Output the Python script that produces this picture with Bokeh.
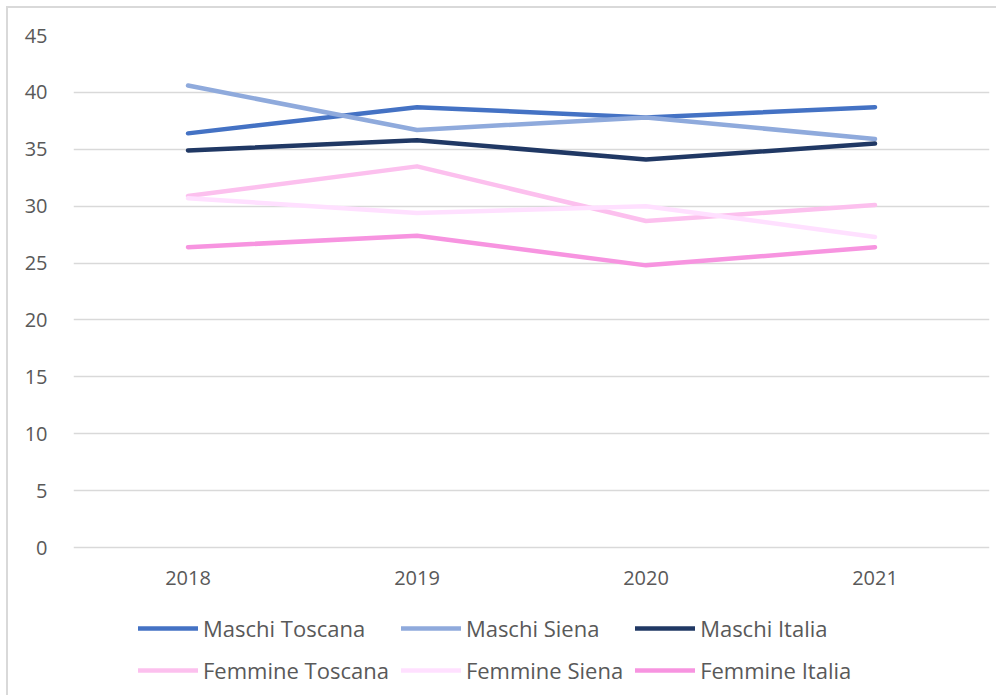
from bokeh.plotting import figure
from bokeh.models import Legend, LegendItem, FixedTicker, ColumnDataSource
from bokeh.core.properties import value
from bokeh.embed import file_html
from bokeh.resources import INLINE

years = ["2018", "2019", "2020", "2021"]
maschi_toscana = [36.4, 38.7, 37.8, 38.7]
maschi_siena = [40.6, 36.7, 37.8, 35.9]
maschi_italia = [34.9, 35.8, 34.1, 35.5]
femmine_toscana = [30.9, 33.5, 28.7, 30.1]
femmine_siena = [30.7, 29.4, 30.0, 27.3]
femmine_italia = [26.4, 27.4, 24.8, 26.4]
y_ticks = [0, 5, 10, 15, 20, 25, 30, 35, 40, 45]

series = [
    ("Maschi Toscana", maschi_toscana, "#4472C4"),
    ("Maschi Siena", maschi_siena, "#8FAADC"),
    ("Maschi Italia", maschi_italia, "#203864"),
    ("Femmine Toscana", femmine_toscana, "#FCC0EE"),
    ("Femmine Siena", femmine_siena, "#FFE0FF"),
    ("Femmine Italia", femmine_italia, "#F794E0"),
]

FONT = "Open Sans"
TXT = "#595959"

# frame extended below zero so the legend (inside the frame) is not clipped
p = figure(x_range=years, y_range=(-13, 45), output_backend="svg",
           toolbar_location=None,
           frame_width=916, frame_height=660,
           min_border_left=65, min_border_right=7,
           min_border_top=27, min_border_bottom=0)
p.styles = {"margin-left": "6px", "margin-top": "6px",
            "border-left": "2px solid #d9d9d9", "border-top": "2px solid #d9d9d9"}
p.outline_line_color = None
p.background_fill_color = "white"
p.border_fill_color = "white"

p.yaxis.ticker = FixedTicker(ticks=y_ticks)
p.ygrid.ticker = FixedTicker(ticks=y_ticks)
p.ygrid.grid_line_color = "#d9d9d9"
p.ygrid.grid_line_width = 1.5
p.xgrid.grid_line_color = None
p.xaxis.visible = False

ax = p.yaxis
ax.axis_line_color = None
ax.major_tick_line_color = None
ax.minor_tick_line_color = None
ax.major_label_text_font = FONT
ax.major_label_text_font_size = "20px"
ax.major_label_text_color = TXT
ax.major_label_standoff = 20

# category labels under the zero line
lab = ColumnDataSource(dict(x=years, y=[0] * len(years), t=years))
p.text(x="x", y="y", text="t", source=lab, y_offset=30,
       text_align="center", text_baseline="middle",
       text_font=value(FONT), text_font_size="20px", text_color=TXT)

items = []
for name, vals, color in series:
    r = p.line(x=years, y=vals, line_color=color, line_width=4.5,
               line_cap="round", line_join="round")
    items.append(LegendItem(label=name, renderers=[r]))

legend = Legend(items=items, orientation="horizontal", ncols=3,
                location=(65, 10), padding=0, margin=0, spacing=12,
                glyph_width=60, glyph_height=20, label_height=20,
                label_standoff=5, border_line_color=None,
                background_fill_alpha=0,
                label_text_font=FONT, label_text_font_size="22px",
                label_text_color=TXT)
p.add_layout(legend, "center")

open("out.html", "w").write(file_html(p, INLINE))
